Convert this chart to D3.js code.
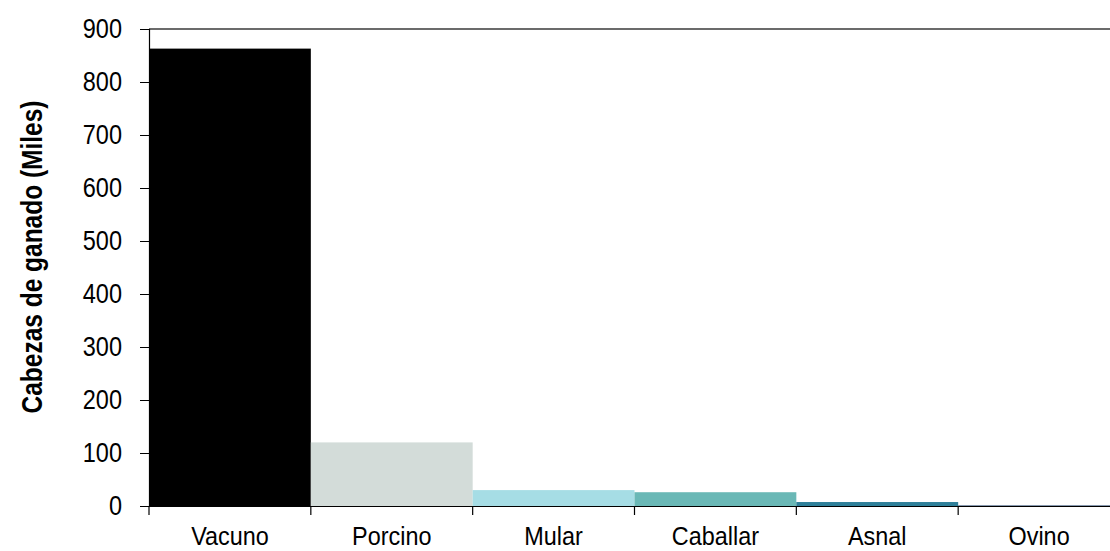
<!DOCTYPE html>
<html><head><meta charset="utf-8">
<script src="https://cdn.jsdelivr.net/npm/d3@7"></script>
<style>
html,body{margin:0;padding:0;background:#fff;}
svg{display:block;}
text{font-family:"Liberation Sans",Arial,sans-serif;}
</style></head>
<body>
<svg id="chart" width="1110" height="551"></svg>
<script>
const categories = ["Vacuno","Porcino","Mular","Caballar","Asnal","Ovino"];
const values = [863, 120, 30, 26, 7.5, 1];
const colors = ["#000000","#d3dcd9","#a6dde5","#6ab8b6","#2e7f99","#1f3f66"];
const yTicks = [0,100,200,300,400,500,600,700,800,900];
const yLabel = "Cabezas de ganado (Miles)";

const svg = d3.select("#chart");
const mLeft = 149, mRight = 1120, mTop = 29, mBottom = 506;
const FONT = '"Liberation Sans",Arial,sans-serif';
const NARROW = 0.84;

const x = d3.scaleBand().domain(categories).range([mLeft, mRight]).paddingInner(0).paddingOuter(0);
const y = d3.scaleLinear().domain([0, 900]).range([mBottom, mTop]);

// top border
svg.append("line").attr("x1", mLeft).attr("x2", 1110).attr("y1", mTop).attr("y2", mTop)
  .attr("stroke", "#3a3a3a").attr("stroke-width", 1.5);

// bars
svg.append("g").selectAll("rect").data(categories).join("rect")
  .attr("x", d => x(d))
  .attr("width", x.bandwidth())
  .attr("y", (d,i) => y(values[i]))
  .attr("height", (d,i) => mBottom - y(values[i]))
  .attr("fill", (d,i) => colors[i]);

// y axis
const yAxis = svg.append("g").attr("transform", `translate(${mLeft},0)`)
  .call(d3.axisLeft(y).tickValues(yTicks).tickSize(9).tickPadding(18).tickFormat(d3.format("d")));
yAxis.select(".domain").attr("stroke", "#000").attr("stroke-width", 1.2);
yAxis.selectAll(".tick line").attr("stroke", "#000");
yAxis.selectAll("text").attr("font-size", 28).attr("fill", "#000").style("font-family", FONT)
  .attr("x", -27 / NARROW).attr("transform", `scale(${NARROW},1)`);

// x axis
const xAxis = svg.append("g").attr("transform", `translate(0,${mBottom})`)
  .call(d3.axisBottom(x).tickSize(0).tickPadding(0));
xAxis.select(".domain").attr("stroke", "#000").attr("stroke-width", 1.2);
xAxis.selectAll("text").attr("font-size", 26).attr("fill", "#000").style("font-family", FONT)
  .attr("y", 39).attr("dy", null).attr("transform", `scale(0.9,1)`);
const bounds = categories.map(c => x(c));
xAxis.selectAll(".bound").data(bounds).join("line").attr("class","bound")
  .attr("x1", d => d).attr("x2", d => d).attr("y1", 0).attr("y2", 9)
  .attr("stroke", "#000").attr("stroke-width", 1.2);

// y label
svg.append("text")
  .attr("transform", `translate(42,257) rotate(-90) scale(0.845,1)`)
  .attr("text-anchor", "middle")
  .attr("font-size", 29).attr("font-weight", "bold").attr("fill", "#000")
  .style("font-family", FONT)
  .text(yLabel);
</script>
</body></html>
